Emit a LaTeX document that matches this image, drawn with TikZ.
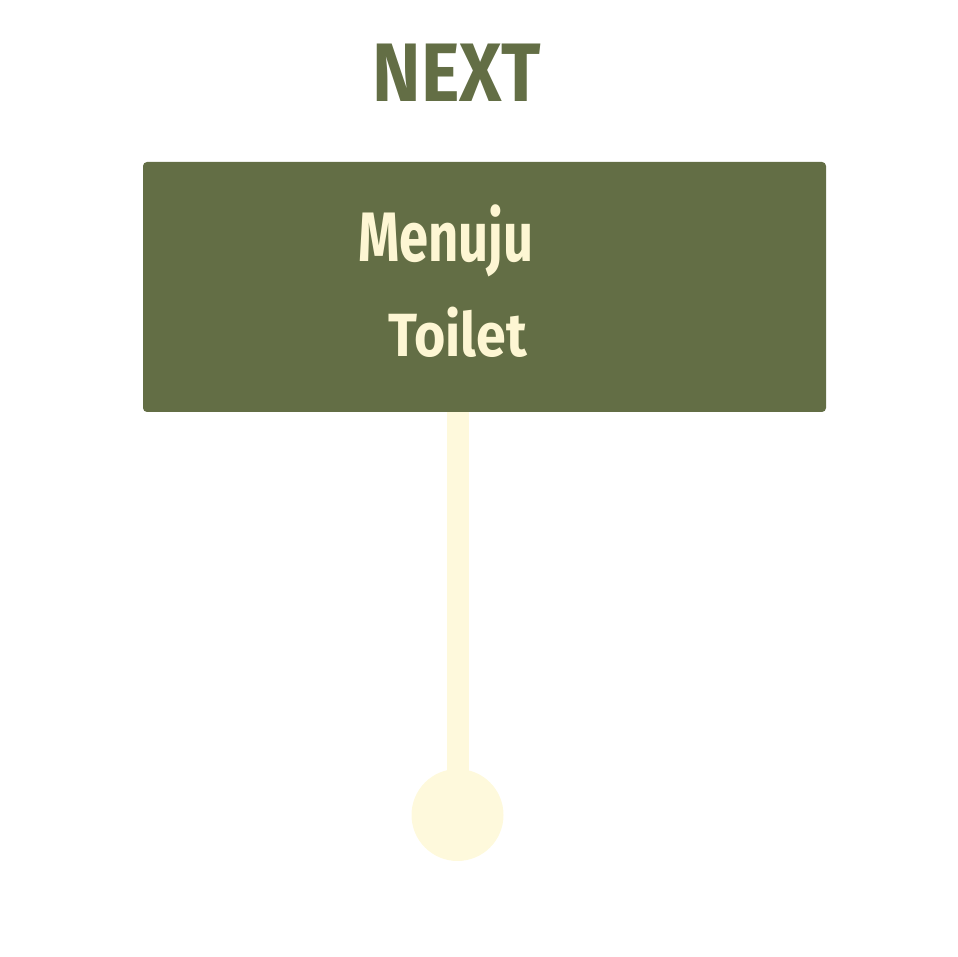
\documentclass[tikz,border=0pt]{standalone}
\usepackage{fontspec}
\setmainfont{Fira Sans}
\newfontfamily\signfont[FakeStretch=0.75]{Fira Sans}
\newfontfamily\widesignfont[FakeStretch=0.88]{Fira Sans}
\usetikzlibrary{positioning, calc}

\definecolor{olive}{HTML}{636E45}
\definecolor{cream}{HTML}{FDF6D3}
\definecolor{stemcream}{HTML}{FEF9DC}

\tikzset{
  signbox/.style={fill=olive, rounded corners=4pt, minimum width=683pt, minimum height=250pt, inner sep=0pt},
  signtext/.style={text=cream, inner sep=0pt, anchor=base},
  knobdot/.style={circle, fill=stemcream, minimum size=92pt, inner sep=0pt},
}

\begin{document}
\begin{tikzpicture}[x=1pt,y=1pt]
        \useasboundingbox (0,0) rectangle (957,957);
        % title
        \node[anchor=base, inner sep=0pt, text=olive, font=\widesignfont\bfseries\fontsize{83}{90}\selectfont] (title) at (457,855) {NEXT};
        % board and its label
        \node[signbox] (board) at (484.5,670) {};
        \node[signtext, font=\signfont\bfseries\fontsize{70}{80}\selectfont] (lblMenuju) at (446,695) {Menuju};
        \node[signtext, font=\widesignfont\bfseries\fontsize{61}{70}\selectfont] (lblToilet) at (457.5,600) {Toilet};
        % stem and knob
        \node[knobdot] (knob) at (457.5,142) {};
        \draw[stemcream, line width=22pt] (knob.center) -- (knob.center |- board.south);
\end{tikzpicture}
\end{document}
